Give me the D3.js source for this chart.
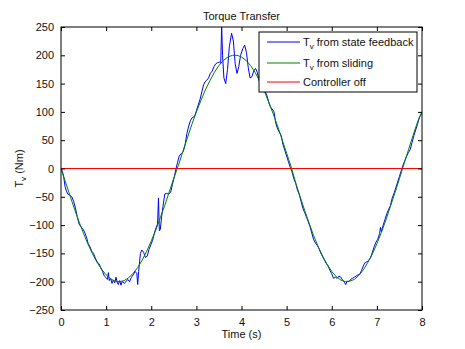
<!DOCTYPE html>
<html><head><meta charset="utf-8">
<script src="https://cdn.jsdelivr.net/npm/d3@7"></script>
<style>body{margin:0;background:#fff}svg{display:block}text{font-family:"Liberation Sans",Arial,sans-serif;fill:#111}</style>
</head><body><svg id="c" width="465" height="349"></svg>
<script>
const slidingT = [0,0.1,0.2,0.3,0.4,0.5,0.6,0.7,0.8,0.9,1.0,1.1,1.2,1.3,1.4,1.5,1.6,1.7,1.8,1.9,2.0,2.1,2.2,2.3,2.4,2.5,2.6,2.7,2.8,2.9,3.0,3.1,3.2,3.3,3.4,3.5,3.6,3.7,3.8,3.9,4.0,4.1,4.2,4.3,4.4,4.5,4.6,4.7,4.8,4.9,5.0,5.1,5.2,5.3,5.4,5.5,5.6,5.7,5.8,5.9,6.0,6.1,6.2,6.3,6.4,6.5,6.6,6.7,6.8,6.9,7.0,7.1,7.2,7.3,7.4,7.5,7.6,7.7,7.8,7.9,8.0];
const slidingV = [0,-24,-48,-72,-94,-115,-134,-151,-166,-178,-188,-195,-199,-200,-198,-193,-185,-175,-162,-146,-128,-109,-87,-65,-41,-17,5,30,54,78,100,120,139,155,170,182,191,197,200,200,197,191,182,170,155,138,118,97,75,51,27,3,-25,-50,-74,-97,-119,-138,-155,-170,-182,-191,-197,-200,-199,-196,-189,-179,-166,-151,-133,-113,-91,-67,-43,-18,8,33,58,82,100];
const feedbackT = [0,0.03,0.06,0.09,0.12,0.15,0.19,0.24,0.28,0.32,0.36,0.40,0.44,0.48,0.52,0.56,0.60,0.64,0.68,0.72,0.76,0.80,0.84,0.88,0.92,0.96,1.00,1.03,1.05,1.07,1.10,1.13,1.16,1.19,1.22,1.24,1.27,1.30,1.33,1.36,1.40,1.44,1.48,1.52,1.56,1.60,1.64,1.68,1.70,1.72,1.76,1.79,1.83,1.87,1.91,1.95,1.99,2.03,2.07,2.11,2.14,2.16,2.18,2.20,2.23,2.26,2.30,2.34,2.38,2.43,2.47,2.51,2.55,2.58,2.62,2.67,2.71,2.75,2.79,2.83,2.87,2.91,2.96,3.00,3.04,3.08,3.12,3.16,3.19,3.23,3.27,3.31,3.35,3.39,3.43,3.47,3.51,3.54,3.56,3.58,3.61,3.65,3.69,3.73,3.78,3.82,3.86,3.90,3.94,3.98,4.03,4.07,4.11,4.15,4.19,4.23,4.27,4.31,4.35,4.39,4.43,4.47,4.51,4.56,4.60,4.64,4.68,4.72,4.76,4.80,4.84,4.88,4.92,4.96,5.00,5.04,5.08,5.12,5.16,5.20,5.24,5.28,5.32,5.36,5.40,5.44,5.48,5.52,5.56,5.60,5.64,5.68,5.72,5.76,5.80,5.84,5.88,5.92,5.96,6.00,6.04,6.08,6.12,6.16,6.20,6.24,6.28,6.31,6.34,6.38,6.42,6.46,6.50,6.54,6.58,6.62,6.66,6.70,6.74,6.78,6.82,6.86,6.90,6.94,6.98,7.02,7.06,7.08,7.10,7.14,7.18,7.22,7.26,7.30,7.34,7.38,7.42,7.46,7.50,7.54,7.58,7.62,7.66,7.70,7.74,7.78,7.82,7.86,7.90,7.94,7.98,8.00];
const feedbackV = [0,-5,-15,-32,-40,-45,-47,-50,-58,-70,-85,-98,-103,-106,-112,-120,-132,-138,-146,-150,-158,-165,-168,-175,-182,-190,-193,-196,-184,-198,-194,-203,-197,-202,-192,-200,-205,-198,-206,-199,-203,-200,-196,-200,-192,-188,-182,-185,-205,-182,-150,-144,-148,-157,-155,-143,-135,-127,-114,-104,-98,-52,-110,-108,-85,-67,-45,-44,-45,-42,-28,-15,0,10,22,27,30,42,62,75,85,90,92,102,112,122,135,148,153,156,160,168,172,180,185,187,188,186,252,200,160,150,175,215,239,225,185,168,180,200,212,218,205,178,160,162,172,177,170,155,152,145,138,130,118,109,105,100,80,70,64,58,42,32,22,12,2,-6,-18,-26,-38,-46,-58,-70,-78,-86,-94,-103,-115,-126,-132,-136,-142,-150,-156,-162,-168,-172,-180,-186,-194,-192,-194,-190,-192,-197,-201,-205,-199,-200,-196,-194,-192,-190,-188,-187,-180,-172,-166,-165,-162,-158,-148,-138,-130,-125,-115,-104,-112,-100,-90,-80,-72,-66,-52,-44,-34,-24,-14,-4,6,14,22,28,34,46,58,68,78,90,96,100];
const offT = [0, 8];
const offV = [0, 0];
const xTicks = [0,1,2,3,4,5,6,7,8];
const yTicks = [-250,-200,-150,-100,-50,0,50,100,150,200,250];

const svg = d3.select("#c");
const L=61,R=422,T=27,B=310;
const x = d3.scaleLinear().domain([0,8]).range([L,R]);
const y = d3.scaleLinear().domain([-250,250]).range([B,T]);

svg.append("defs").append("clipPath").attr("id","clip").append("rect")
  .attr("x",L).attr("y",T).attr("width",R-L).attr("height",B-T);

const g = svg.append("g").attr("clip-path","url(#clip)");
const line = d3.line().x(d=>x(d[0])).y(d=>y(d[1]));
const series = [
  {t:feedbackT,v:feedbackV,c:"#0000ff"},
  {t:slidingT,v:slidingV,c:"#008000"},
  {t:offT,v:offV,c:"#ff0000"}
];
series.forEach(s=>{
  g.append("path").datum(s.t.map((t,i)=>[t,s.v[i]]))
   .attr("d",line).attr("fill","none").attr("stroke",s.c).attr("stroke-width",1);
});

// axes (MATLAB style, inner ticks on all sides)
const fs = 11;
const axB = svg.append("g").attr("transform",`translate(0,${B})`)
  .call(d3.axisBottom(x).tickValues(xTicks).tickSize(-4).tickPadding(8).tickFormat(d3.format("d")));
const axT = svg.append("g").attr("transform",`translate(0,${T})`)
  .call(d3.axisTop(x).tickValues(xTicks).tickSize(-4).tickFormat(""));
const axL = svg.append("g").attr("transform",`translate(${L},0)`)
  .call(d3.axisLeft(y).tickValues(yTicks).tickSize(-4).tickPadding(7).tickFormat(d3.format("d")));
const axR = svg.append("g").attr("transform",`translate(${R},0)`)
  .call(d3.axisRight(y).tickValues(yTicks).tickSize(-4).tickFormat(""));
[axB,axT,axL,axR].forEach(a=>{
  a.select(".domain").remove();
  a.selectAll("line").attr("stroke","#000");
  a.selectAll("text").attr("font-size",fs).attr("font-family","Liberation Sans, Arial, sans-serif").attr("fill","#111");
});
svg.append("rect").attr("x",L).attr("y",T).attr("width",R-L).attr("height",B-T)
  .attr("fill","none").attr("stroke","#000").attr("stroke-width",1);

// titles
svg.append("text").attr("x",(L+R)/2).attr("y",20).attr("text-anchor","middle").attr("font-size",11).text("Torque Transfer");
svg.append("text").attr("x",(L+R)/2).attr("y",338).attr("text-anchor","middle").attr("font-size",11).text("Time (s)");
const yl = svg.append("text").attr("transform",`translate(23,${(T+B)/2}) rotate(-90)`).attr("text-anchor","middle").attr("font-size",11);
yl.append("tspan").text("T");
yl.append("tspan").attr("dy",3).attr("font-size",8).text("v");
yl.append("tspan").attr("dy",-3).text(" (Nm)");

// legend
const leg = svg.append("g");
leg.append("rect").attr("x",259).attr("y",32).attr("width",158).attr("height",60)
  .attr("fill","#fff").attr("stroke","#000").attr("stroke-width",1);
const legItems = [
  {main:"T",sub:"v",rest:" from state feedback",c:"#0000ff",yy:42},
  {main:"T",sub:"v",rest:" from sliding",c:"#008000",yy:63},
  {main:"",sub:"",rest:"Controller off",c:"#ff0000",yy:82}
];
legItems.forEach(it=>{
  leg.append("line").attr("x1",267).attr("x2",300).attr("y1",it.yy).attr("y2",it.yy)
    .attr("stroke",it.c).attr("stroke-width",1);
  const t = leg.append("text").attr("x",303).attr("y",it.yy+4).attr("font-size",11);
  if(it.main){
    t.append("tspan").text(it.main);
    t.append("tspan").attr("dy",3).attr("font-size",8).text(it.sub);
    t.append("tspan").attr("dy",-3).text(it.rest);
  } else t.text(it.rest);
});
</script></body></html>
